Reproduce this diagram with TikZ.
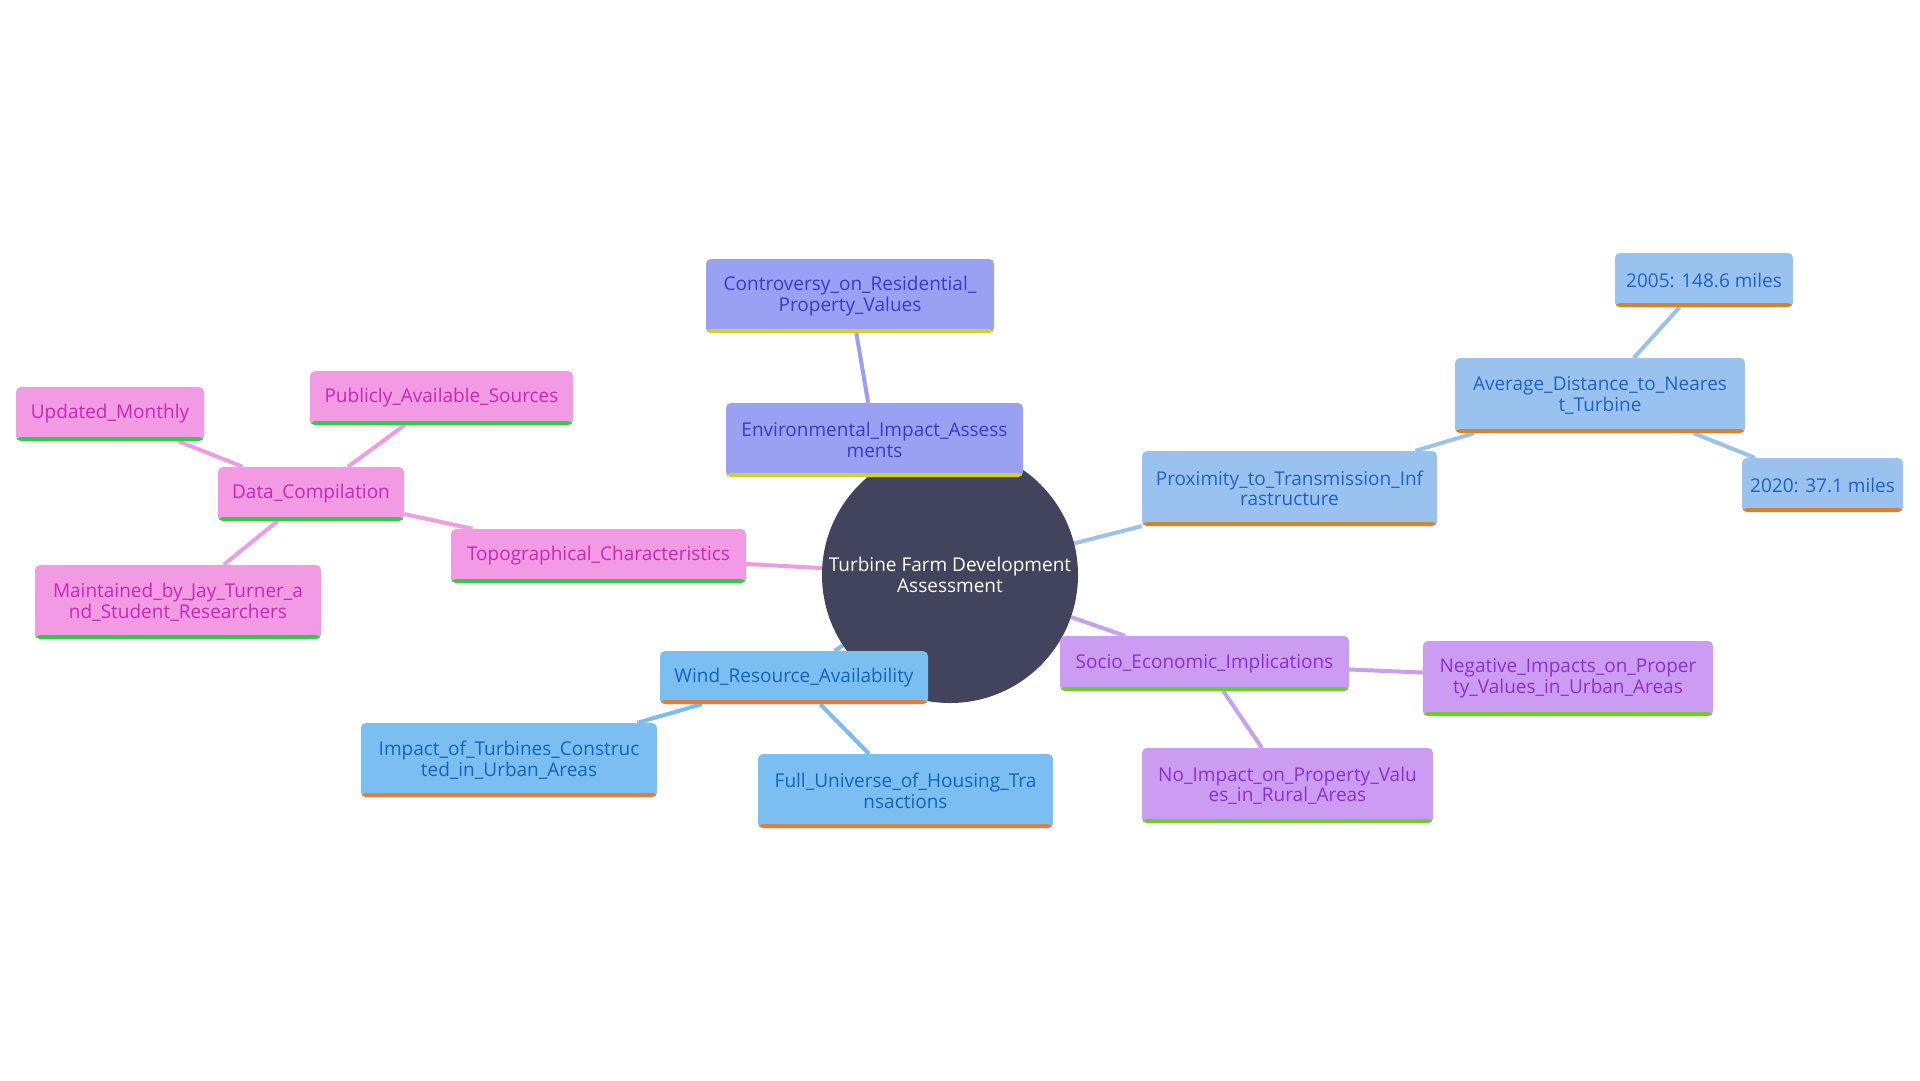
\documentclass[tikz,border=0pt]{standalone}
\usepackage{fontspec}
\setmainfont{Open Sans}
\usetikzlibrary{backgrounds}

\definecolor{rootfill}{HTML}{41445C}
\definecolor{pinkfill}{HTML}{F29AE4}
\definecolor{pinktext}{HTML}{C42AB2}
\definecolor{pinkbar}{HTML}{2ECC47}
\definecolor{pinkline}{HTML}{EE9DE2}
\definecolor{envfill}{HTML}{9AA0F2}
\definecolor{envtext}{HTML}{3A3AC6}
\definecolor{envbar}{HTML}{D6CF30}
\definecolor{envline}{HTML}{9AA0EE}
\definecolor{proxfill}{HTML}{9AC2EE}
\definecolor{proxtext}{HTML}{1F62C4}
\definecolor{proxbar}{HTML}{D6842C}
\definecolor{proxline}{HTML}{9CC2EC}
\definecolor{windfill}{HTML}{7ABEF2}
\definecolor{windtext}{HTML}{1565B6}
\definecolor{windbar}{HTML}{E07E3A}
\definecolor{windline}{HTML}{7CBCEE}
\definecolor{sociofill}{HTML}{CC9CF2}
\definecolor{sociotext}{HTML}{8A30CE}
\definecolor{sociobar}{HTML}{6CCE2C}
\definecolor{socioline}{HTML}{C9A0EE}

\begin{document}
\begin{tikzpicture}[x=1pt, y=-1pt,
    box/.style={rounded corners=5pt, inner sep=0pt, align=center,
      font=\fontsize{19}{20.5}\selectfont},
    bar/.style={path picture={\fill[#1] ([yshift=4pt]path picture bounding box.south west)
      rectangle (path picture bounding box.south east);}},
    sz/.style 2 args={minimum width=#1pt, minimum height=#2pt},
    pinkbox/.style={box, fill=pinkfill, text=pinktext, bar=pinkbar},
    envbox/.style={box, fill=envfill, text=envtext, bar=envbar},
    proxbox/.style={box, fill=proxfill, text=proxtext, bar=proxbar},
    windbox/.style={box, fill=windfill, text=windtext, bar=windbar},
    sociobox/.style={box, fill=sociofill, text=sociotext, bar=sociobar},
    link/.style={line width=4pt, draw=#1}]
  \useasboundingbox (0,0) rectangle (1920,1080);

  \node[circle, fill=rootfill, text=white, minimum size=256pt, inner sep=0pt, align=center,
    font=\fontsize{19}{20.5}\selectfont] (root) at (950,575)
    {Turbine Farm Development\\Assessment};

  \node[envbox, sz={297}{74}] (env) at (874.5,440) {Environmental\_Impact\_Assess\\ments};
  \node[envbox, sz={288}{74}] (contro) at (850,296) {Controversy\_on\_Residential\_\\Property\_Values};

  \node[pinkbox, sz={295}{54}] (topo) at (598.5,556) {Topographical\_Characteristics};
  \node[pinkbox, sz={186}{54}] (data) at (311,494) {Data\_Compilation};
  \node[pinkbox, sz={188}{54}] (monthly) at (110,414) {Updated\_Monthly};
  \node[pinkbox, sz={263}{54}] (sources) at (441.5,398) {Publicly\_Available\_Sources};
  \node[pinkbox, sz={286}{74}] (maint) at (178,602) {Maintained\_by\_Jay\_Turner\_a\\nd\_Student\_Researchers};

  \node[proxbox, sz={295}{75}] (prox) at (1289.5,488.5) {Proximity\_to\_Transmission\_Inf\\rastructure};
  \node[proxbox, sz={290}{75}] (avg) at (1600,395.5) {Average\_Distance\_to\_Neares\\t\_Turbine};
  \node[proxbox, sz={178}{54}] (y2005) at (1704,280) {2005: 148.6 miles};
  \node[proxbox, sz={161}{54}] (y2020) at (1822.5,485) {2020: 37.1 miles};

  \node[windbox, sz={268}{53}] (wind) at (794,677.5) {Wind\_Resource\_Availability};
  \node[windbox, sz={296}{74}] (urban) at (509,760) {Impact\_of\_Turbines\_Construc\\ted\_in\_Urban\_Areas};
  \node[windbox, sz={295}{74}] (housing) at (905.5,791) {Full\_Universe\_of\_Housing\_Tra\\nsactions};

  \node[sociobox, sz={289}{55}] (socio) at (1204.5,663.5) {Socio\_Economic\_Implications};
  \node[sociobox, sz={290}{75}] (neg) at (1568,678.5) {Negative\_Impacts\_on\_Proper\\ty\_Values\_in\_Urban\_Areas};
  \node[sociobox, sz={291}{75}] (rural) at (1287.5,785.5) {No\_Impact\_on\_Property\_Valu\\es\_in\_Rural\_Areas};

  \begin{scope}[on background layer]
    \fill[white] (0,0) rectangle (1920,1080);
    \draw[link=envline] (root) -- (env) (env) -- (contro);
    \draw[link=pinkline] (root) -- (topo) (topo) -- (data) (data) -- (monthly)
      (data) -- (sources) (data) -- (maint);
    \draw[link=proxline] (root) -- (prox) (prox) -- (avg) (avg) -- (y2005) (avg) -- (y2020);
    \draw[link=windline] (root) -- (wind) (wind) -- (urban) (wind) -- (housing);
    \draw[link=socioline] (root) -- (socio) (socio) -- (neg) (socio) -- (rural);
  \end{scope}
\end{tikzpicture}
\end{document}
